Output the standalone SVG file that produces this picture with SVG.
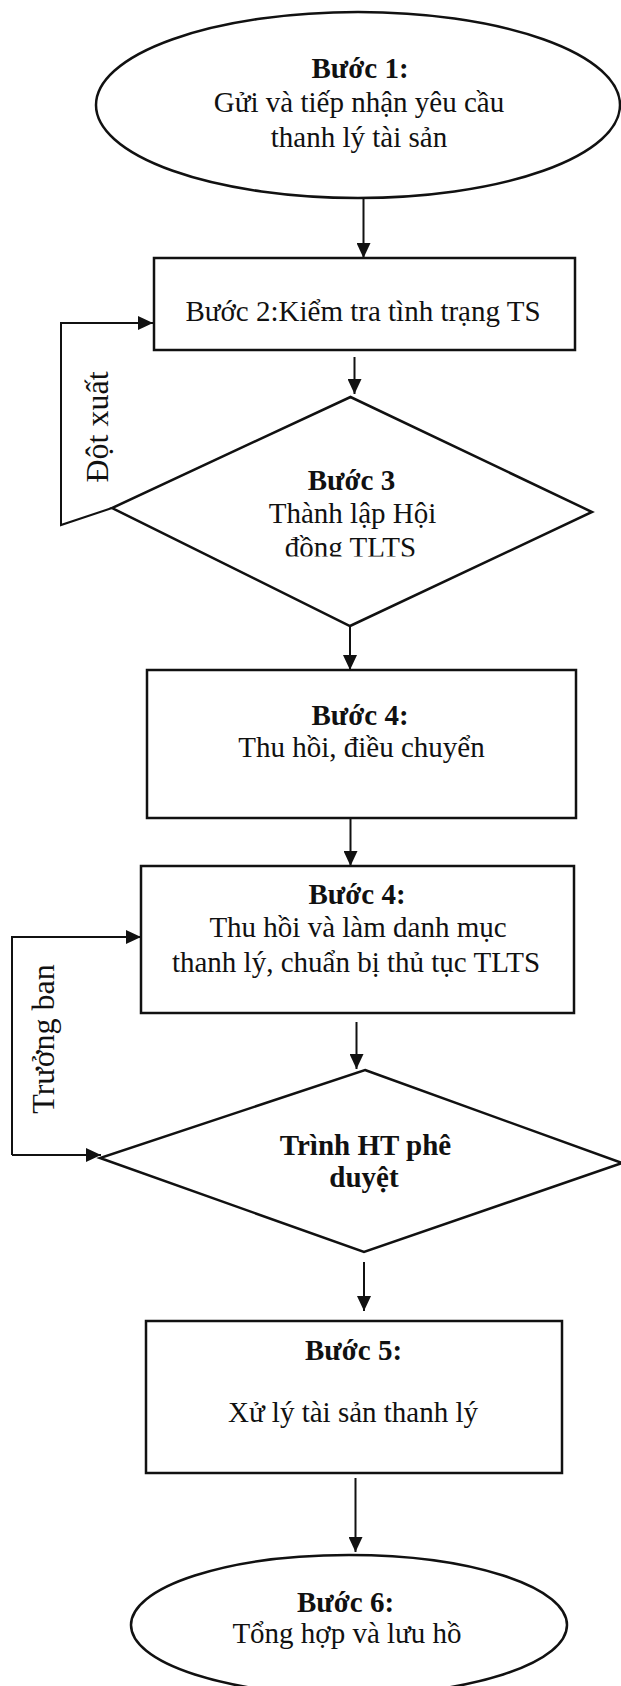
<svg xmlns="http://www.w3.org/2000/svg" width="621" height="1686" viewBox="0 0 621 1686">
<style>
.shape{fill:#fff;stroke:#111;stroke-width:2.5}
.line{fill:none;stroke:#111;stroke-width:2}
text{font-family:"Liberation Serif","Times New Roman",serif;font-size:29px;fill:#111;text-anchor:middle}
.b{font-weight:bold}
.rot{font-size:32px}
</style>
<defs>
<marker id="ah" viewBox="0 0 15 14" refX="15" refY="7" markerWidth="15" markerHeight="14" markerUnits="userSpaceOnUse" orient="auto">
<path d="M0,0 L15,7 L0,14 Z" fill="#111"/>
</marker>
<clipPath id="clip3"><rect x="0" y="380" width="621" height="176.5"/></clipPath>
</defs>
<rect width="621" height="1686" fill="#fff"/>

<g id="connectors">
<line class="line" x1="363.5" y1="198" x2="363.5" y2="258" marker-end="url(#ah)"/>
<line class="line" x1="354.5" y1="357" x2="354.5" y2="394" marker-end="url(#ah)"/>
<line class="line" x1="350" y1="627" x2="350" y2="670" marker-end="url(#ah)"/>
<line class="line" x1="350.5" y1="819" x2="350.5" y2="866" marker-end="url(#ah)"/>
<line class="line" x1="356.5" y1="1022" x2="356.5" y2="1069" marker-end="url(#ah)"/>
<line class="line" x1="364" y1="1262" x2="364" y2="1311" marker-end="url(#ah)"/>
<line class="line" x1="355.5" y1="1478" x2="355.5" y2="1552" marker-end="url(#ah)"/>
<path class="line" d="M112,508 L61,525 L61,323 L153,323" marker-end="url(#ah)"/>
<path class="line" d="M12,1155 L12,937 L141,937" marker-end="url(#ah)"/>
<path class="line" d="M12,1155 L101,1155" marker-end="url(#ah)"/>
<text class="rot" transform="translate(108,427) rotate(-90)">Đột xuất</text>
<text class="rot" transform="translate(54,1039) rotate(-90)">Trưởng ban</text>
</g>

<g id="step1">
<ellipse class="shape" cx="358" cy="105" rx="262" ry="93"/>
<text class="b" x="360" y="78">Bước 1:</text>
<text x="359" y="112">Gửi và tiếp nhận yêu cầu</text>
<text x="359" y="147">thanh lý tài sản</text>
</g>

<g id="step2">
<rect class="shape" x="154" y="258" width="421" height="92"/>
<text x="363" y="321">Bước 2:Kiểm tra tình trạng TS</text>
</g>

<g id="step3">
<polygon class="shape" points="350.5,397 592,512 350,626 112,508"/>
<g clip-path="url(#clip3)">
<text class="b" x="351.5" y="490">Bước 3</text>
<text x="352.5" y="523">Thành lập Hội</text>
<text x="350.5" y="557">đồng TLTS</text>
</g>
</g>

<g id="step4a">
<rect class="shape" x="147" y="670" width="429" height="148"/>
<text class="b" x="360" y="725">Bước 4:</text>
<text x="361.5" y="757">Thu hồi, điều chuyển</text>
</g>

<g id="step4b">
<rect class="shape" x="141" y="866" width="433" height="147"/>
<text class="b" x="357" y="904">Bước 4:</text>
<text x="358" y="937">Thu hồi và làm danh mục</text>
<text x="356" y="972">thanh lý, chuẩn bị thủ tục TLTS</text>
</g>

<g id="approve">
<polygon class="shape" points="365,1070 622,1163 364,1252 100,1158"/>
<text class="b" x="365.5" y="1155">Trình HT phê</text>
<text class="b" x="364" y="1187">duyệt</text>
</g>

<g id="step5">
<rect class="shape" x="146" y="1321" width="416" height="152"/>
<text class="b" x="353.5" y="1360">Bước 5:</text>
<text x="353" y="1422">Xử lý tài sản thanh lý</text>
</g>

<g id="step6">
<ellipse class="shape" cx="349" cy="1625" rx="218" ry="70"/>
<text class="b" x="345.5" y="1612">Bước 6:</text>
<text x="347" y="1643">Tổng hợp và lưu hồ</text>
</g>
</svg>
